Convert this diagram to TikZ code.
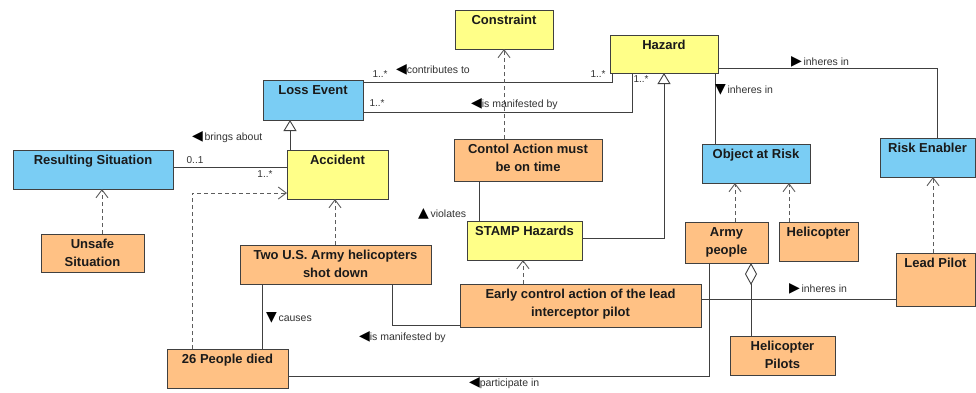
\documentclass[tikz,border=0pt]{standalone}
\usepackage{fontspec}
\setmainfont{Liberation Sans}
\newfontfamily\symfont{DejaVu Sans}
\usetikzlibrary{arrows.meta}

\definecolor{clsyellow}{HTML}{FFFF88}
\definecolor{clsblue}{HTML}{7ACDF4}
\definecolor{clsorange}{HTML}{FFC184}
\definecolor{edge}{HTML}{404040}
\definecolor{ink}{HTML}{1A1A1A}
\definecolor{note}{HTML}{333333}

% class compartment: fixed width and height, name set at the top
\newcommand{\clsbody}[3]{\parbox[c][#2][t]{#1}{\centering\fontsize{13}{18}\selectfont\bfseries\rule{0pt}{14.6pt}#3\par}}
% reading-direction triangle in association names
\newcommand{\tri}[1]{{\color{black}\symfont\fontsize{14}{12}\selectfont #1}}

\tikzset{
  every node/.style={inner sep=0pt, outer sep=0pt},
  umlcls/.style={draw=edge, line width=0.9pt, anchor=north west, text=ink},
  assoc/.style={draw=edge, line width=0.9pt},
  depend/.style={draw=edge!85, line width=0.9pt, dash pattern=on 4pt off 3pt,
    -{Straight Barb[length=8pt,width=12pt]}},
  general/.style={assoc, -{Triangle[length=11pt,width=13pt,fill=white]}},
  aggreg/.style={assoc, {Diamond[length=22pt,width=12pt,fill=white]}-},
  rolelbl/.style={text=note, font=\fontsize{10.5}{12}\selectfont, anchor=west},
  mult/.style={text=note, font=\fontsize{10}{12}\selectfont},
}

\begin{document}
\begin{tikzpicture}[x=1pt, y=-1pt]
\fill[white] (0,0) rectangle (976,392);
\useasboundingbox (0,0) rectangle (976,392);

% ---------- classes ----------
\node[umlcls, fill=clsyellow] (constraint) at (455,10)  {\clsbody{98pt}{39pt}{Constraint}};
\node[umlcls, fill=clsyellow] (hazard)     at (610,35)  {\clsbody{108pt}{38pt}{Hazard}};
\node[umlcls, fill=clsblue]   (loss)       at (263,80)  {\clsbody{100pt}{40pt}{Loss Event}};
\node[umlcls, fill=clsblue]   (result)     at (13,150)  {\clsbody{160pt}{39pt}{Resulting Situation}};
\node[umlcls, fill=clsyellow] (accident)   at (287,150) {\clsbody{101pt}{49pt}{Accident}};
\node[umlcls, fill=clsorange] (contol)     at (454,139) {\clsbody{148pt}{42pt}{Contol Action must\\be on time}};
\node[umlcls, fill=clsblue]   (objrisk)    at (702,144) {\clsbody{108pt}{39pt}{Object at Risk}};
\node[umlcls, fill=clsblue]   (riskenab)   at (880,138) {\clsbody{95pt}{39pt}{Risk Enabler}};
\node[umlcls, fill=clsorange] (unsafe)     at (41,234)  {\clsbody{103pt}{38pt}{Unsafe\\Situation}};
\node[umlcls, fill=clsorange] (twous)      at (240,245) {\clsbody{191pt}{39pt}{Two U.S. Army helicopters\\shot down}};
\node[umlcls, fill=clsorange] (died)       at (167,349) {\clsbody{121pt}{39pt}{26 People died}};
\node[umlcls, fill=clsyellow] (stamp)      at (467,221) {\clsbody{115pt}{39pt}{STAMP Hazards}};
\node[umlcls, fill=clsorange] (early)      at (460,284) {\clsbody{241pt}{43pt}{Early control action of the lead\\interceptor pilot}};
\node[umlcls, fill=clsorange] (army)       at (685,222) {\clsbody{83pt}{41pt}{Army\\people}};
\node[umlcls, fill=clsorange] (heli)       at (779,222) {\clsbody{79pt}{39pt}{Helicopter}};
\node[umlcls, fill=clsorange] (lead)       at (896,253) {\clsbody{79pt}{53pt}{Lead Pilot}};
\node[umlcls, fill=clsorange] (helipil)    at (730,336) {\clsbody{105pt}{39pt}{Helicopter\\Pilots}};

% ---------- connector end points ----------
\coordinate (le1) at ([yshift=-2pt]loss.north east);
\coordinate (hz1) at ([xshift=2pt]hazard.south west);
\coordinate (le2) at ([yshift=8pt]loss.south east);
\coordinate (hz2) at ([xshift=22pt]hazard.south west);
\coordinate (st1) at ([yshift=2.5pt]stamp.east);
\coordinate (hz3) at ([xshift=54pt]hazard.south west);
\coordinate (ca1) at ([xshift=25pt]contol.south west);
\coordinate (ac1) at ([xshift=3pt]accident.north west);
\coordinate (rs1) at ([yshift=2.5pt]result.east);
\coordinate (us1) at ([xshift=61pt]unsafe.north west);
\coordinate (pd1) at ([xshift=25pt]died.north west);
\coordinate (ac2) at ([yshift=6pt]accident.south west);
\coordinate (tw1) at ([xshift=95pt]twous.north west);
\coordinate (tw2) at ([xshift=22pt]twous.south west);
\coordinate (tw3) at ([xshift=152pt]twous.south west);
\coordinate (ea1) at ([yshift=2pt]early.south west);
\coordinate (ea2) at ([xshift=63pt]early.north west);
\coordinate (ea3) at ([yshift=-15pt]early.north east);
\coordinate (pd2) at ([yshift=12pt]died.south east);
\coordinate (ap1) at ([xshift=24pt]army.south west);
\coordinate (ap2) at ([xshift=66pt]army.south west);
\coordinate (ap3) at ([xshift=50pt]army.north west);
\coordinate (he1) at ([xshift=10pt]heli.north west);
\coordinate (hz4) at ([xshift=-3pt]hazard.south east);
\coordinate (hz5) at ([yshift=5pt]hazard.south east);
\coordinate (re1) at ([xshift=57pt]riskenab.north west);
\coordinate (lp1) at ([xshift=37pt]lead.north west);

% ---------- associations ----------
\draw[assoc] (le1) -| (hz1);
\draw[assoc] (le2) -| (hz2);
\draw[assoc] (ca1) -- (ca1 |- stamp.north);
\draw[assoc] (rs1) -- (rs1 -| accident.west);
\draw[assoc] (tw2) -- (tw2 |- died.north);
\draw[assoc] (tw3) |- (ea1);
\draw[assoc] (ea3) -- (ea3 -| lead.west);
\draw[assoc] (pd2) -| (ap1);
\draw[assoc] (hz4) -- (hz4 |- objrisk.north);
\draw[assoc] (hz5) -| (re1);
\draw[aggreg] (ap2) -- (ap2 |- helipil.north);

% ---------- generalizations ----------
\draw[general] (st1) -| (hz3);
\draw[general] (ac1) -- (ac1 |- loss.south);

% ---------- dependencies ----------
\draw[depend] (contol.north -| constraint.south) -- (constraint.south);
\draw[depend] (us1) -- (us1 |- result.south);
\draw[depend] (pd1) |- (ac2);
\draw[depend] (tw1) -- (tw1 |- accident.south);
\draw[depend] (ea2) -- (ea2 |- stamp.south);
\draw[depend] (ap3) -- (ap3 |- objrisk.south);
\draw[depend] (he1) -- (he1 |- objrisk.south);
\draw[depend] (lp1) -- (lp1 |- riskenab.south);

% ---------- multiplicities ----------
\node[mult] (m1) at (380,74)  {1..*};
\node[mult] (m2) at (598,74)  {1..*};
\node[mult] (m3) at (377,103) {1..*};
\node[mult] (m4) at (641,79)  {1..*};
\node[mult] (m5) at (195,160) {0..1};
\node[mult] (m6) at (265,174) {1..*};

% ---------- association names ----------
\node[rolelbl] (n1)  at (396,70)  {\tri{◀}contributes to};
\node[rolelbl] (n2)  at (471,104) {\tri{◀}is manifested by};
\node[rolelbl] (n3)  at (192,137) {\tri{◀}\,brings about};
\node[rolelbl] (n4)  at (418,214) {\tri{▲}\,violates};
\node[rolelbl] (n5)  at (266,318) {\tri{▼}\,causes};
\node[rolelbl] (n6)  at (359,337) {\tri{◀}is manifested by};
\node[rolelbl] (n7)  at (469,383) {\tri{◀}participate in};
\node[rolelbl] (n8)  at (789,289) {\tri{▶}\,inheres in};
\node[rolelbl] (n9)  at (715,90)  {\tri{▼}\,inheres in};
\node[rolelbl] (n10) at (791,62)  {\tri{▶}\,inheres in};
\end{tikzpicture}
\end{document}
